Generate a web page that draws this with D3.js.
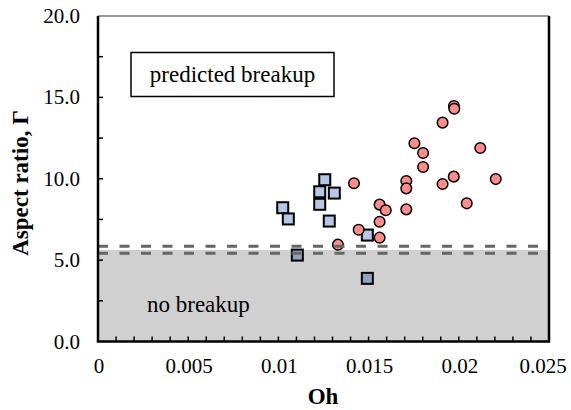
<!DOCTYPE html>
<html>
<head>
<meta charset="utf-8">
<script src="https://cdn.jsdelivr.net/npm/d3@7"></script>
<style>
  body { margin: 0; background: #fff; }
</style>
</head>
<body>
<svg id="chart" width="571" height="410" font-family="'Liberation Serif', 'Times New Roman', 'DejaVu Serif', serif"></svg>
<script>
// no breakup (squares)
const squareOh = [0.01024, 0.01055, 0.01257, 0.01229, 0.0131, 0.01229, 0.01282, 0.01493, 0.01105, 0.01493]
const squareAR = [8.22, 7.53, 9.94, 9.2, 9.12, 8.43, 7.4, 6.54, 5.31, 3.88]

// breakup (circles)
const circleOh = [0.01973, 0.01975, 0.0191, 0.01754, 0.01802, 0.02119, 0.01802, 0.01419, 0.01709, 0.01709,
  0.01972, 0.0191, 0.02205, 0.01561, 0.01595, 0.01709, 0.02044, 0.01561, 0.01445, 0.01561, 0.0133]
const circleAR = [14.47, 14.3, 13.45, 12.18, 11.58, 11.89, 10.72, 9.72, 9.86, 9.41,
  10.13, 9.68, 9.98, 8.41, 8.06, 8.12, 8.49, 7.36, 6.87, 6.38, 5.95]

const xTicks = [0, 0.005, 0.01, 0.015, 0.02, 0.025]
const yTicks = [0, 5, 10, 15, 20]
const noBreakupTop = 5.63
const thresholds = [5.85, 5.42]

const svg = d3.select('#chart')
const x = d3.scaleLinear().domain([0, 0.025]).range([98, 549])
const y = d3.scaleLinear().domain([0, 20]).range([341.5, 16])

// markers
svg.append('g').selectAll('rect')
  .data(squareOh.map((d, i) => [d, squareAR[i]]))
  .join('rect')
  .attr('x', d => x(d[0]) - 5.5)
  .attr('y', d => y(d[1]) - 5.5)
  .attr('width', 11)
  .attr('height', 11)
  .attr('fill', '#b4c7e7')
  .attr('stroke', '#000')
  .attr('stroke-width', 2)

svg.append('g').selectAll('circle')
  .data(circleOh.map((d, i) => [d, circleAR[i]]))
  .join('circle')
  .attr('cx', d => x(d[0]))
  .attr('cy', d => y(d[1]))
  .attr('r', 5.3)
  .attr('fill', '#ff8b8b')
  .attr('stroke', '#000')
  .attr('stroke-width', 1.5)

// shaded no-breakup region (drawn over the points)
svg.append('rect')
  .attr('x', x(0))
  .attr('y', y(noBreakupTop))
  .attr('width', x(0.025) - x(0))
  .attr('height', y(0) - y(noBreakupTop))
  .attr('fill', '#000')
  .attr('fill-opacity', 0.185)

svg.append('g').selectAll('line')
  .data(thresholds)
  .join('line')
  .attr('x1', x(0)).attr('x2', x(0.025))
  .attr('y1', d => y(d)).attr('y2', d => y(d))
  .attr('stroke', '#666')
  .attr('stroke-width', 3)
  .attr('stroke-dasharray', '10,11.5')

// inward ticks
svg.append('g').selectAll('line')
  .data(d3.range(1, 25).map(i => i * 0.001))
  .join('line')
  .attr('x1', d => x(d)).attr('x2', d => x(d))
  .attr('y1', y(0)).attr('y2', y(0) - 5)
  .attr('stroke', '#000').attr('stroke-width', 1.5)

svg.append('g').selectAll('line')
  .data(d3.range(1, 8).map(i => i * 2.5))
  .join('line')
  .attr('x1', x(0)).attr('x2', x(0) + 5)
  .attr('y1', d => y(d)).attr('y2', d => y(d))
  .attr('stroke', '#000').attr('stroke-width', 1.5)

// frame
svg.append('line').attr('x1', x(0)).attr('x2', x(0.025)).attr('y1', y(20)).attr('y2', y(20))
  .attr('stroke', '#777').attr('stroke-width', 1.5)
svg.append('path')
  .attr('d', `M${x(0)},${y(20)} V${y(0)} H${x(0.025)} V${y(20)}`)
  .attr('fill', 'none')
  .attr('stroke', '#000')
  .attr('stroke-width', 2.5)

// tick labels (last one nudged inside the page like the original)
svg.append('g').selectAll('text')
  .data(xTicks)
  .join('text')
  .attr('x', d => Math.min(x(d) + 1, 543))
  .attr('y', 373)
  .attr('text-anchor', 'middle')
  .style('font-size', '21px')
  .text(d => d3.format('~g')(d))

svg.append('g').selectAll('text')
  .data(yTicks)
  .join('text')
  .attr('x', 80)
  .attr('y', d => y(d) + 7)
  .attr('text-anchor', 'end')
  .style('font-size', '21px')
  .text(d => d.toFixed(1))

// axis titles
svg.append('text')
  .attr('x', 323).attr('y', 404)
  .attr('text-anchor', 'middle')
  .style('font-size', '23px').style('font-weight', 'bold')
  .text('Oh')

svg.append('text')
  .attr('transform', 'translate(28,183) rotate(-90)')
  .attr('text-anchor', 'middle')
  .style('font-size', '23px').style('font-weight', 'bold')
  .text('Aspect ratio, Γ')

// annotations
svg.append('rect')
  .attr('x', 131).attr('y', 52.5)
  .attr('width', 203).attr('height', 44)
  .attr('fill', '#fff').attr('stroke', '#000').attr('stroke-width', 1.5)
svg.append('text')
  .attr('x', 232.5).attr('y', 82)
  .attr('text-anchor', 'middle')
  .style('font-size', '23px')
  .text('predicted breakup')

svg.append('text')
  .attr('x', 147).attr('y', 312)
  .style('font-size', '23px')
  .text('no breakup')
</script>
</body>
</html>
